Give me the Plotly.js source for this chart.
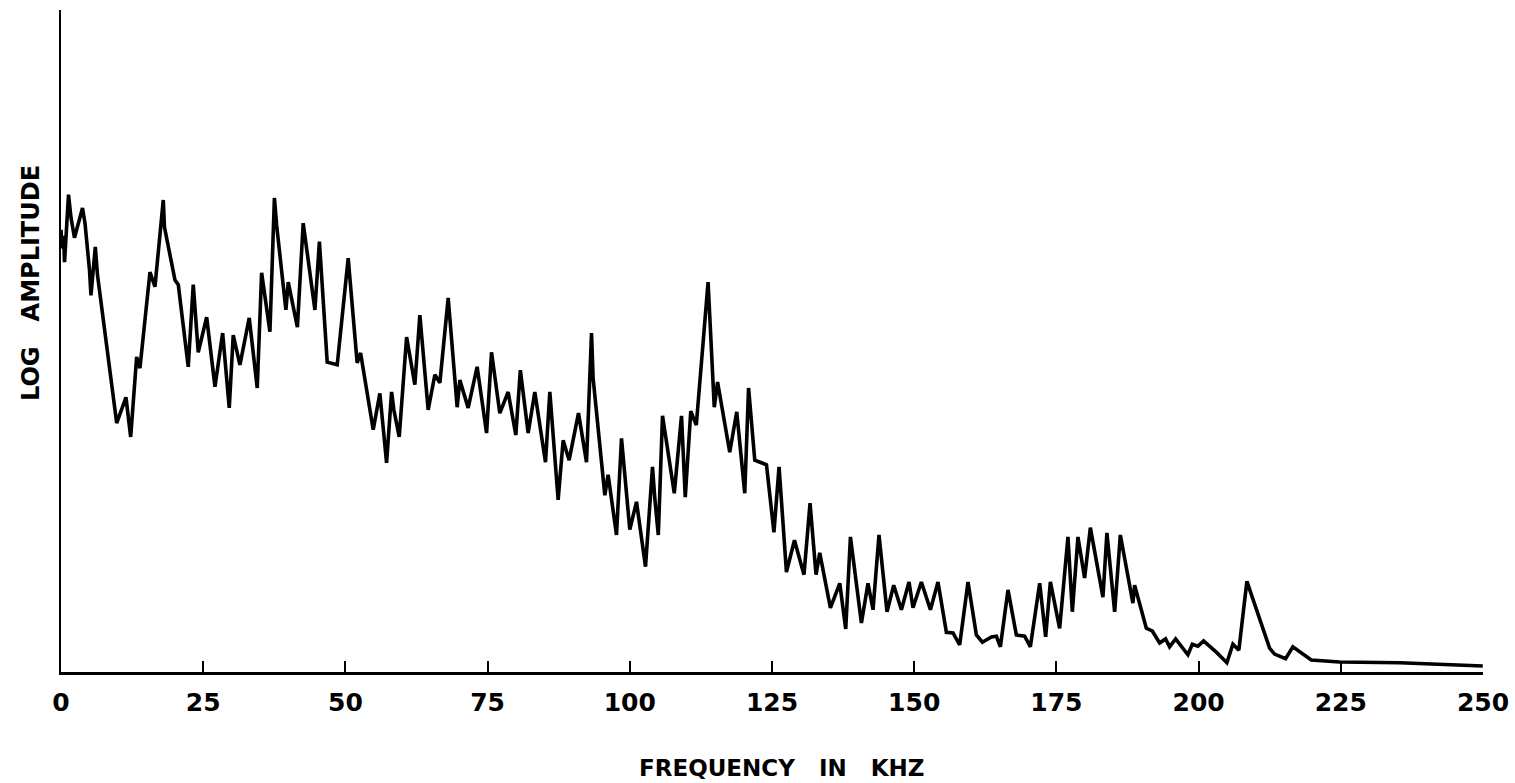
<!DOCTYPE html>
<html>
<head>
<meta charset="utf-8">
<script src="https://cdn.plot.ly/plotly-3.0.1.min.js"></script>
<style>
  html, body { margin: 0; padding: 0; background: #ffffff; }
  #chart { width: 1515px; height: 783px; }
</style>
</head>
<body>
<div id="chart"></div>
<script>
// Spectrum: frequency (kHz) against log amplitude (relative units, 0 = baseline)
const freqKHz = [
  0, 0.18, 0.44, 0.62, 1.32, 1.76, 2.37, 2.90, 3.78, 4.22,
  5.01, 5.27, 6.03, 6.41, 9.79, 11.42, 12.25, 13.30, 13.88, 15.64,
  16.52, 17.98, 18.19, 20.04, 20.62, 22.37, 23.25, 24.13, 25.61, 27.07,
  28.42, 29.58, 30.28, 31.46, 33.09, 34.50, 35.27, 36.73, 37.52, 37.91,
  39.54, 39.95, 41.56, 42.58, 43.46, 44.64, 45.43, 46.80, 48.56, 50.49,
  52.07, 52.67, 54.89, 56.06, 57.24, 58.12, 58.52, 59.46, 60.76, 62.21,
  63.09, 64.55, 65.73, 66.61, 68.07, 69.65, 70.12, 71.58, 73.16, 74.82,
  75.69, 77.15, 78.61, 79.96, 80.76, 82.13, 83.30, 85.18, 85.94, 87.40,
  88.28, 89.33, 90.98, 92.39, 93.27, 93.55, 95.61, 96.19, 97.66, 98.54,
  100.00, 101.18, 102.76, 103.99, 104.39, 105.01, 105.75, 107.82, 109.09, 109.75,
  110.72, 111.69, 113.76, 114.85, 115.43, 117.57, 118.80, 120.21, 120.88, 121.97,
  124.03, 125.34, 126.24, 127.54, 128.95, 130.62, 131.69, 132.74, 133.39, 135.27,
  136.91, 137.96, 138.79, 140.72, 141.88, 142.76, 143.81, 145.22, 146.40, 147.75,
  149.09, 149.79, 151.26, 152.85, 154.18, 155.66, 156.82, 158.00, 159.46, 160.93,
  161.99, 163.57, 164.45, 165.15, 166.49, 167.96, 169.42, 170.42, 172.06, 173.11,
  173.94, 175.57, 177.03, 177.80, 178.79, 179.96, 180.97, 183.18, 183.88, 185.24,
  186.24, 188.45, 188.75, 190.81, 191.86, 193.15, 194.20, 194.90, 195.96, 198.12,
  198.89, 199.88, 200.88, 203.11, 204.97, 206.03, 207.08, 208.49, 212.48, 213.36,
  215.29, 216.57, 219.81, 224.78, 235.33, 249.96
];

const logAmplitude = [
  66.8, 64.0, 65.9, 61.9, 72.1, 68.6, 65.6, 67.4, 70.1, 67.8,
  60.7, 56.9, 64.2, 60.0, 37.6, 41.5, 35.5, 47.6, 45.9, 60.4,
  58.2, 71.3, 67.2, 59.2, 58.5, 46.1, 58.5, 48.3, 53.6, 43.1,
  51.2, 39.9, 50.9, 46.4, 53.5, 42.9, 60.3, 51.4, 71.6, 67.5,
  54.7, 58.9, 52.1, 67.8, 62.5, 54.7, 65.0, 46.8, 46.4, 62.5,
  46.7, 48.2, 36.6, 42.1, 31.6, 42.3, 39.6, 35.5, 50.6, 43.4,
  53.9, 39.6, 44.9, 43.7, 56.5, 40.0, 44.1, 39.9, 46.1, 36.1,
  48.3, 39.1, 42.3, 35.8, 45.6, 36.1, 42.3, 31.7, 42.3, 26.0,
  35.0, 32.0, 39.1, 31.7, 51.2, 44.4, 26.7, 29.8, 20.7, 35.3,
  21.5, 25.7, 15.9, 31.0, 26.3, 20.7, 38.7, 27.0, 38.7, 26.4,
  39.4, 37.3, 58.9, 40.0, 43.8, 33.2, 39.3, 27.0, 42.9, 32.0,
  31.3, 21.1, 31.0, 15.1, 19.9, 14.7, 25.5, 14.7, 18.0, 9.7,
  13.4, 6.5, 20.4, 7.4, 13.4, 9.4, 20.7, 9.1, 13.1, 9.4,
  13.6, 9.7, 13.6, 9.4, 13.6, 6.0, 5.9, 4.1, 13.6, 5.6,
  4.5, 5.3, 5.4, 3.8, 12.4, 5.6, 5.4, 3.8, 13.4, 5.3,
  13.6, 6.6, 20.4, 9.1, 20.4, 14.2, 21.8, 11.3, 21.0, 9.1,
  20.7, 10.4, 13.1, 6.6, 6.2, 4.4, 5.0, 3.8, 5.0, 2.6,
  4.2, 3.9, 4.7, 3.0, 1.4, 4.2, 3.3, 13.7, 3.6, 2.7,
  2.0, 3.8, 1.8, 1.5, 1.4, 0.9
];

const tickValues = [0, 25, 50, 75, 100, 125, 150, 175, 200, 225, 250];
const tickLabels = ['0', '25', '50', '75', '100', '125', '150', '175', '200', '225', '250'];

const inkFont = { family: 'DejaVu Sans, Liberation Sans, sans-serif', color: '#000000', weight: 'bold' };

const trace = {
  type: 'scatter',
  mode: 'lines',
  x: freqKHz,
  y: logAmplitude,
  line: { color: '#000000', width: 3.6, shape: 'linear' },
  hoverinfo: 'x+y',
  showlegend: false
};

const layout = {
  width: 1515,
  height: 783,
  paper_bgcolor: '#ffffff',
  plot_bgcolor: '#ffffff',
  margin: { l: 61, r: 32, t: 10, b: 111 },
  showlegend: false,
  xaxis: {
    range: [0, 250],
    showgrid: false,
    zeroline: false,
    showline: true,
    linecolor: '#000000',
    linewidth: 2.5,
    ticks: 'inside',
    ticklen: 11,
    tickwidth: 2,
    tickcolor: '#000000',
    tickmode: 'array',
    tickvals: tickValues,
    ticktext: tickLabels,
    ticklabelstandoff: 6,
    tickfont: Object.assign({ size: 25 }, inkFont),
    fixedrange: true
  },
  yaxis: {
    range: [0, 100],
    showgrid: false,
    zeroline: false,
    showline: true,
    linecolor: '#000000',
    linewidth: 2.5,
    ticks: '',
    showticklabels: false,
    fixedrange: true
  },
  annotations: [
    {
      text: 'FREQUENCY\u00a0\u00a0\u00a0IN\u00a0\u00a0\u00a0KHZ',
      xref: 'paper', yref: 'paper',
      x: (781 - 61) / 1422, y: -(768 - 672) / 662,
      xanchor: 'center', yanchor: 'middle',
      showarrow: false,
      font: Object.assign({ size: 23 }, inkFont)
    },
    {
      text: 'LOG\u00a0\u00a0\u00a0AMPLITUDE',
      xref: 'paper', yref: 'paper',
      x: -(61 - 31) / 1422, y: (672 - 283) / 662,
      xanchor: 'center', yanchor: 'middle',
      textangle: -90,
      showarrow: false,
      font: Object.assign({ size: 24 }, inkFont)
    }
  ]
};

Plotly.newPlot('chart', [trace], layout, { displayModeBar: false, staticPlot: true });
</script>
</body>
</html>
